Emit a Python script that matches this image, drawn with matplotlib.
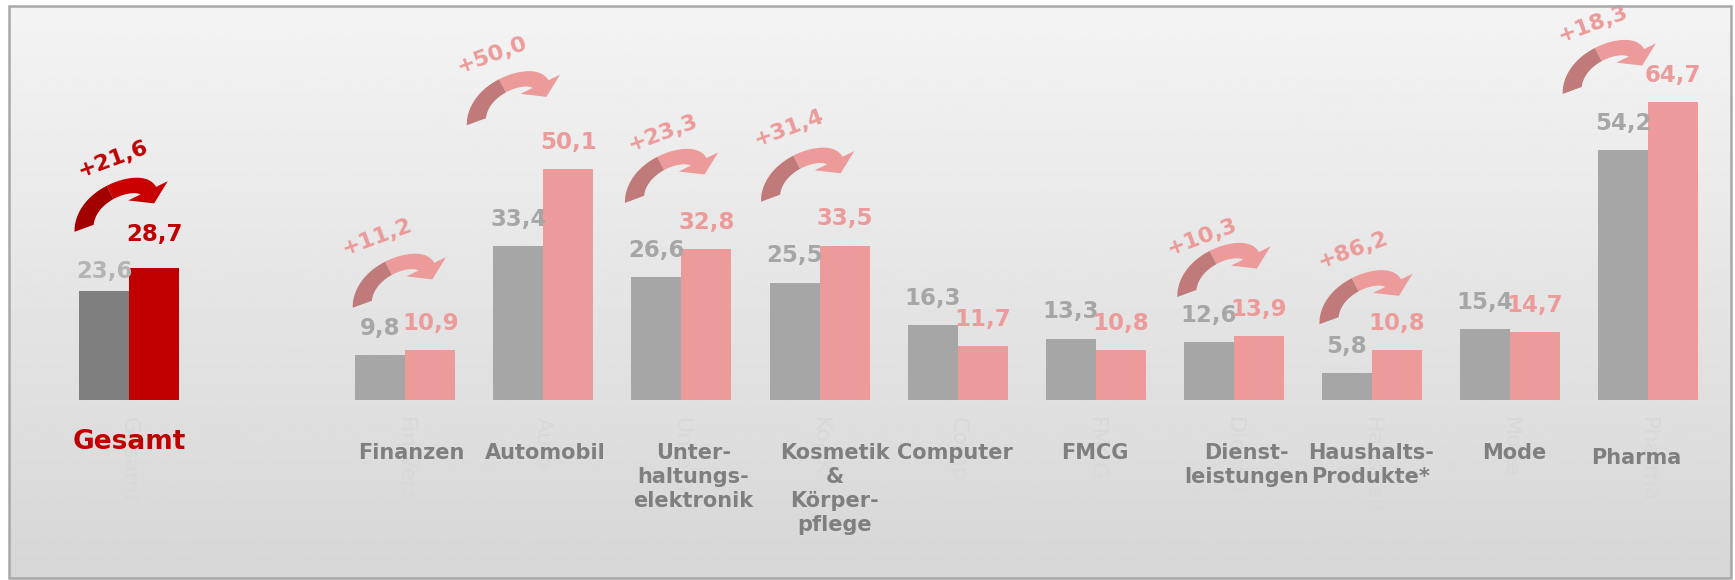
import matplotlib
matplotlib.use("Agg")
import matplotlib.pyplot as plt
import matplotlib.patches as mpatches
import matplotlib.transforms as mtransforms
import numpy as np

# data
categories = ["Gesamt", "Finanzen", "Automobil", "Unter-\nhaltungs-\nelektronik",
              "Kosmetik\n&\nKörper-\npflege", "Computer", "FMCG", "Dienst-\nleistungen",
              "Haushalts-\nProdukte*", "Mode", "Pharma"]
short_names = ["Gesamt", "Fin.Vers", "Auto", "Unterh", "Ko&K", "Comp", "FMCG",
               "Dienstl", "Haushalt", "Mode", "Pharma"]
values_prev = [23.6, 9.8, 33.4, 26.6, 25.5, 16.3, 13.3, 12.6, 5.8, 15.4, 54.2]
values_curr = [28.7, 10.9, 50.1, 32.8, 33.5, 11.7, 10.8, 13.9, 10.8, 14.7, 64.7]
growth = ["+21,6", "+11,2", "+50,0", "+23,3", "+31,4", None, None, "+10,3", "+86,2", None, "+18,3"]

# layout tweaks (pixels)
label_dx = [0, 6, 2, 12, 15, -3, -1, 13, -1, 4, -12]
arrow_dx = [-54, -52, -76, -56, -58, 0, 0, -56, -52, 0, -85]
arrow_dy = [36, 42, 44, 46, 44, 0, 0, 39, 26, 0, 8]
growth_dx = [38, 24, 25, 38, 27, 0, 0, 24, 33, 0, 30]
growth_dy = [73, 71, 70, 70, 74, 0, 0, 60, 74, 0, 70]

PT = 72 / 100  # points per pixel at dpi 100

GRAY, PINK = "#a6a6a6", "#ec9a9a"
DGRAY, RED = "#7f7f7f", "#c00000"

x = np.array([0] + list(range(2, 12)), dtype=float)
w = 50 / 138.1

fig = plt.figure(figsize=(17.35, 5.8), dpi=100)
ax = fig.add_axes([0, 0, 1, 1])
ax.axis("off")

# background gradient + frame
grad = np.linspace(0.955, 0.84, 256)[:, None] * np.ones((256, 2))
ax.imshow(grad, cmap="gray", vmin=0, vmax=1, aspect="auto", zorder=0,
          extent=[9 / 1735, 1731 / 1735, 2 / 580, 574 / 580], transform=ax.transAxes)
fig.patches.append(mpatches.Rectangle((9 / 1735, 2 / 580), 1722 / 1735, 572 / 580,
                                      transform=fig.transFigure, fill=False,
                                      edgecolor="#a8a8a8", lw=1.8, zorder=1))

ax.set_xlim(-129 / 138.1, -129 / 138.1 + 1735 / 138.1)
ax.set_ylim(-180 / 4.606, 400 / 4.606)
ax.set_autoscale_on(False)

c_prev = [DGRAY] + [GRAY] * 10
c_curr = [RED] + [PINK] * 10
ax.bar(x - w / 2, values_prev, width=w, color=c_prev, zorder=3)
ax.bar(x + w / 2, values_curr, width=w, color=c_curr, zorder=3)


def fmt(v):
    return f"{v:.1f}".replace(".", ",")


for i in range(len(x)):
    lc_prev = "#b4b4b4" if i == 0 else GRAY
    lc_curr = RED if i == 0 else PINK
    off_prev = 6 if i == 0 else 11
    off_curr = 16 if i == 0 else 11
    ax.annotate(fmt(values_prev[i]), (x[i] - w / 2, values_prev[i]), xytext=(0, off_prev),
                textcoords="offset points", ha="center", va="bottom",
                fontsize=16.5, fontweight="bold", color=lc_prev, zorder=5)
    ax.annotate(fmt(values_curr[i]), (x[i] + w / 2, values_curr[i]), xytext=(0, off_curr),
                textcoords="offset points", ha="center", va="bottom",
                fontsize=16.5, fontweight="bold", color=lc_curr, zorder=5)

    # faint leftover axis names
    ax.annotate(short_names[i], (x[i], 0), xytext=(0, -17 * PT), textcoords="offset points",
                rotation=270, ha="center", va="top", fontsize=16, color="#d8d8d8", zorder=2)

    # category labels
    if i == 0:
        ax.annotate(categories[i], (x[i], 0), xytext=(0, -29 * PT), textcoords="offset points",
                    ha="center", va="top", fontsize=19, fontweight="bold", color=RED, zorder=4)
    else:
        yoff = -48 if i == 10 else -43
        ax.annotate(categories[i], (x[i], 0), xytext=(label_dx[i] * PT, yoff * PT),
                    textcoords="offset points", ha="center", va="top", multialignment="center",
                    linespacing=1.25, fontsize=15, fontweight="bold", color=DGRAY, zorder=4)


def curved_arrow(px, py, dark, light):
    P = np.array([[9, 3.5], [11, 40], [66, 55.4], [73, 41]])
    t = np.linspace(0, 1, 80)[:, None]
    B = (1 - t) ** 3 * P[0] + 3 * (1 - t) ** 2 * t * P[1] + 3 * (1 - t) * t ** 2 * P[2] + t ** 3 * P[3]
    dB = 3 * (1 - t) ** 2 * (P[1] - P[0]) + 6 * (1 - t) * t * (P[2] - P[1]) + 3 * t ** 2 * (P[3] - P[2])
    d = dB / np.linalg.norm(dB, axis=1)[:, None]
    n = np.column_stack([-d[:, 1], d[:, 0]])
    wd = 19 - 16 * t + 15 * t ** 2
    outer = B + n * wd / 2
    inner = B - n * wd / 2
    outer[0] = P[0] + [-9.5, -3.5]
    inner[0] = P[0] + [9.5, 3.5]
    k = 36
    tip = P[3] + 14 * d[-1]
    bo = P[3] + 22 * n[-1]
    bi = P[3] - 22 * n[-1]
    dark_poly = np.vstack([outer[:k + 1], inner[:k + 1][::-1]])
    light_poly = np.vstack([outer[k:], [bo, tip, bi], inner[k:][::-1]])
    tr = mtransforms.Affine2D().translate(px, py)
    ax.add_patch(mpatches.Polygon(light_poly, closed=True, facecolor=light, edgecolor="none",
                                  transform=tr, zorder=4))
    ax.add_patch(mpatches.Polygon(dark_poly, closed=True, facecolor=dark, edgecolor="none",
                                  transform=tr, zorder=4))


for i in range(len(x)):
    if growth[i] is None:
        continue
    top = max(values_prev[i], values_curr[i])
    bx, by = ax.transData.transform((x[i], top))
    ax0, ay0 = bx + arrow_dx[i], by + arrow_dy[i]
    if i == 0:
        curved_arrow(ax0, ay0, "#a30000", "#c80000")
        gcol = RED
    else:
        curved_arrow(ax0, ay0, "#c07a7a", PINK)
        gcol = PINK
    ax.annotate(growth[i], (x[i], top),
                xytext=((arrow_dx[i] + growth_dx[i]) * PT, (arrow_dy[i] + growth_dy[i]) * PT),
                textcoords="offset points", ha="center", va="center", rotation=20,
                rotation_mode="anchor", fontsize=16, fontweight="bold", color=gcol, zorder=5)

fig.savefig("out.png", dpi=100)
